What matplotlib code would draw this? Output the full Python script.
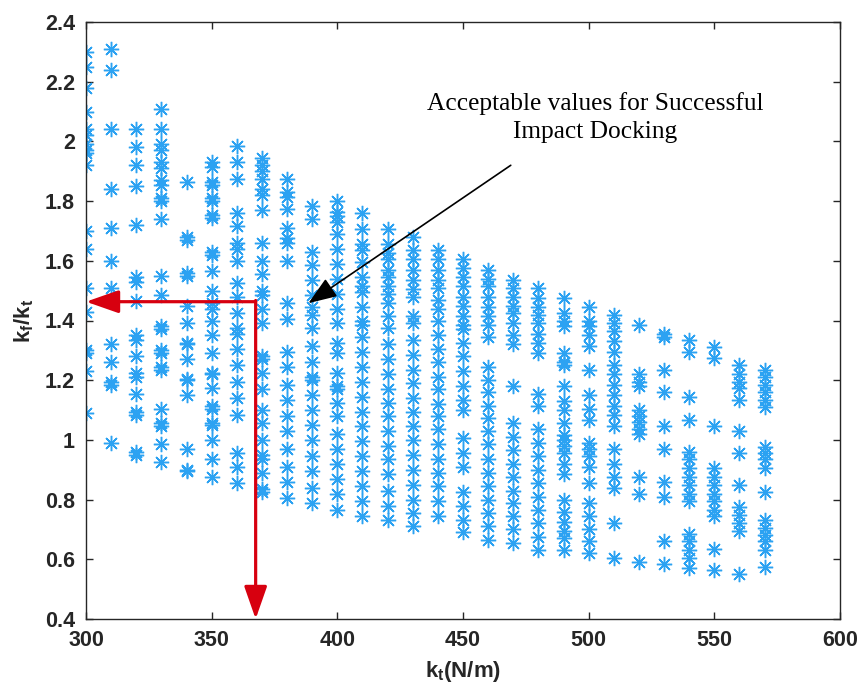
import matplotlib
matplotlib.use("Agg")
import matplotlib.pyplot as plt

plt.rcParams['font.family'] = ['Liberation Sans', 'DejaVu Sans']
plt.rcParams['mathtext.fontset'] = 'custom'
plt.rcParams['mathtext.rm'] = 'Liberation Sans'
plt.rcParams['mathtext.it'] = 'Liberation Sans:italic'
plt.rcParams['mathtext.bf'] = 'Liberation Sans:bold'

# ---- data: k_t columns and the k_f/k_t values found in each ----
kt_values = [300, 310, 320, 330, 340, 350, 360, 370, 380, 390, 400, 410, 420, 430,
             440, 450, 460, 470, 480, 490, 500, 510, 520, 530, 540, 550, 560, 570]

r300 = [2.30, 2.25, 2.18, 2.10, 2.04, 2.02, 1.99, 1.97, 1.96, 1.92, 1.70, 1.64, 1.51, 1.43, 1.30, 1.29, 1.23, 1.09]
r310 = [2.31, 2.24, 2.04, 1.84, 1.71, 1.60, 1.51, 1.32, 1.26, 1.195, 1.185, 0.99]
r320 = [2.04, 1.98, 1.92, 1.85, 1.72, 1.545, 1.53, 1.465, 1.35, 1.335, 1.28, 1.225, 1.21, 1.155, 1.095, 1.085, 0.96, 0.95]
r330 = [2.11, 2.04, 1.99, 1.97, 1.93, 1.91, 1.87, 1.855, 1.81, 1.80, 1.74, 1.55, 1.485, 1.38, 1.37, 1.30, 1.29,
        1.245, 1.235, 1.105, 1.055, 1.045, 0.985, 0.925]
r340 = [1.865, 1.68, 1.67, 1.56, 1.55, 1.45, 1.39, 1.325, 1.32, 1.27, 1.205, 1.20, 1.15, 0.97, 0.90, 0.895]
r350 = [1.93, 1.915, 1.865, 1.855, 1.81, 1.80, 1.755, 1.745, 1.63, 1.62, 1.565, 1.50, 1.46, 1.44, 1.40, 1.35,
        1.29, 1.225, 1.22, 1.175, 1.115, 1.105, 1.055, 1.05, 1.0, 0.935, 0.875]
r360 = [1.985, 1.93, 1.875, 1.76, 1.715, 1.66, 1.64, 1.60, 1.525, 1.48, 1.425, 1.375, 1.355, 1.305, 1.25,
        1.195, 1.14, 1.085, 0.955, 0.91, 0.855]
r370 = [1.945, 1.92, 1.90, 1.875, 1.84, 1.82, 1.77, 1.66, 1.60, 1.555, 1.50, 1.485, 1.44, 1.39, 1.28, 1.27,
        1.225, 1.17, 1.10, 1.055, 1.0, 0.95, 0.935, 0.89, 0.835, 0.825]
r380 = [1.875, 1.83, 1.815, 1.775, 1.71, 1.675, 1.66, 1.60, 1.46, 1.405, 1.295, 1.245, 1.185, 1.135, 1.08,
        1.03, 0.97, 0.91, 0.86, 0.805]
r390 = [1.785, 1.74, 1.63, 1.585, 1.535, 1.485, 1.445, 1.42, 1.375, 1.315, 1.26, 1.21, 1.20, 1.15, 1.10, 1.05,
        1.0, 0.945, 0.895, 0.84, 0.79]
r400 = [1.80, 1.765, 1.75, 1.73, 1.69, 1.64, 1.59, 1.54, 1.49, 1.44, 1.39, 1.325, 1.29, 1.225, 1.18, 1.17,
        1.125, 1.08, 1.02, 0.97, 0.92, 0.87, 0.82, 0.765]
r410 = [1.76, 1.705, 1.655, 1.635, 1.595, 1.545, 1.515, 1.495, 1.445, 1.40, 1.385, 1.345, 1.295, 1.245, 1.195,
        1.145, 1.095, 1.045, 0.995, 0.945, 0.895, 0.845, 0.795, 0.745]
r420 = [1.705, 1.655, 1.625, 1.605, 1.57, 1.545, 1.515, 1.49, 1.46, 1.415, 1.375, 1.32, 1.27, 1.22, 1.17,
        1.125, 1.08, 1.03, 0.98, 0.935, 0.885, 0.83, 0.78, 0.73]
r430 = [1.68, 1.635, 1.605, 1.57, 1.535, 1.505, 1.48, 1.415, 1.39, 1.335, 1.285, 1.235, 1.19, 1.14, 1.095,
        1.045, 1.0, 0.95, 0.90, 0.85, 0.80, 0.755, 0.71]
r440 = [1.635, 1.605, 1.57, 1.535, 1.51, 1.47, 1.44, 1.40, 1.35, 1.305, 1.26, 1.21, 1.17, 1.12, 1.08, 1.035,
        0.985, 0.935, 0.89, 0.845, 0.795, 0.745]
r450 = [1.605, 1.575, 1.545, 1.515, 1.48, 1.45, 1.415, 1.385, 1.37, 1.325, 1.28, 1.23, 1.18, 1.135, 1.10,
        1.005, 0.955, 0.91, 0.825, 0.78, 0.73, 0.69]
r460 = [1.57, 1.54, 1.515, 1.48, 1.445, 1.415, 1.385, 1.345, 1.245, 1.20, 1.16, 1.115, 1.075, 1.03, 0.985,
        0.935, 0.89, 0.845, 0.80, 0.755, 0.71, 0.665]
r470 = [1.535, 1.51, 1.48, 1.45, 1.425, 1.39, 1.35, 1.32, 1.18, 1.055, 1.01, 0.965, 0.92, 0.875, 0.83, 0.79,
        0.745, 0.70, 0.655]
r480 = [1.51, 1.475, 1.445, 1.42, 1.39, 1.355, 1.325, 1.29, 1.155, 1.115, 1.035, 0.99, 0.945, 0.90, 0.855,
        0.81, 0.765, 0.72, 0.675, 0.63]
r490 = [1.475, 1.425, 1.40, 1.38, 1.29, 1.26, 1.25, 1.18, 1.13, 1.10, 1.055, 1.015, 1.0, 0.98, 0.955, 0.92,
        0.885, 0.80, 0.76, 0.725, 0.695, 0.67, 0.63]
r500 = [1.445, 1.40, 1.38, 1.35, 1.315, 1.235, 1.15, 1.105, 1.065, 0.99, 0.97, 0.945, 0.91, 0.855, 0.79,
        0.745, 0.70, 0.66, 0.62]
r510 = [1.42, 1.39, 1.365, 1.33, 1.295, 1.25, 1.22, 1.185, 1.15, 1.115, 1.085, 1.045, 0.97, 0.92, 0.875,
        0.84, 0.72, 0.605]
r520 = [1.385, 1.22, 1.195, 1.18, 1.10, 1.08, 1.06, 1.035, 1.02, 0.875, 0.82, 0.59]
r530 = [1.355, 1.345, 1.235, 1.16, 1.045, 0.97, 0.86, 0.81, 0.66, 0.585]
r540 = [1.335, 1.295, 1.145, 1.065, 0.96, 0.935, 0.905, 0.875, 0.85, 0.82, 0.795, 0.685, 0.66, 0.63, 0.605, 0.57]
r550 = [1.31, 1.275, 1.045, 0.905, 0.875, 0.85, 0.82, 0.795, 0.765, 0.745, 0.635, 0.565]
r560 = [1.25, 1.22, 1.195, 1.175, 1.135, 1.03, 0.955, 0.85, 0.775, 0.75, 0.72, 0.695, 0.55]
r570 = [1.235, 1.21, 1.185, 1.16, 1.135, 1.11, 0.975, 0.955, 0.935, 0.905, 0.825, 0.73, 0.705, 0.68, 0.66,
        0.63, 0.575]

ratio_columns = [r300, r310, r320, r330, r340, r350, r360, r370, r380, r390, r400, r410, r420, r430,
                 r440, r450, r460, r470, r480, r490, r500, r510, r520, r530, r540, r550, r560, r570]

x_ticks = [300, 350, 400, 450, 500, 550, 600]
y_ticks = [0.4, 0.6, 0.8, 1.0, 1.2, 1.4, 1.6, 1.8, 2.0, 2.2, 2.4]
y_tick_labels = ['0.4', '0.6', '0.8', '1', '1.2', '1.4', '1.6', '1.8', '2', '2.2', '2.4']

chosen_kt = 367.5
chosen_ratio = 1.463
annot_text = "Acceptable values for Successful\nImpact Docking"
annot_text_pos = (502.5, 2.08)
annot_arrow_start = (469, 1.92)
annot_arrow_tip = (388.5, 1.458)

# ---- figure ----
fig = plt.figure(figsize=(8.61, 6.90), dpi=100)
ax = fig.add_axes([86 / 861, 1 - 619 / 690, (840 - 86) / 861, (619 - 22) / 690])

xs, ys = [], []
for kt, col in zip(kt_values, ratio_columns):
    xs.extend([kt] * len(col))
    ys.extend(col)

ax.plot(xs, ys, linestyle='none', marker=(8, 2, 0), markersize=11,
        markeredgewidth=1.05, color='#2CA2F2')

ax.set_xlim(300, 600)
ax.set_ylim(0.4, 2.4)
ax.set_xticks(x_ticks)
ax.set_yticks(y_ticks)
ax.set_yticklabels(y_tick_labels)

axis_color = '#262626'
for sp in ax.spines.values():
    sp.set_color(axis_color)
    sp.set_linewidth(1.0)
ax.tick_params(direction='in', length=5, width=1.0, colors=axis_color,
               top=True, right=True, labelsize=15.5)
ax.tick_params(axis='y', pad=8)
ax.tick_params(axis='x', pad=8)
for lab in ax.get_xticklabels() + ax.get_yticklabels():
    lab.set_fontweight('bold')

ax.set_xlabel(r'$\mathbf{k_t(N/m)}$', fontsize=16, color=axis_color, labelpad=6)
ax.set_ylabel(r'$\mathbf{k_f/k_t}$', fontsize=16, color=axis_color, labelpad=6)

# red arrows
red = '#D7000F'
ax.annotate('', xy=(300, chosen_ratio), xytext=(chosen_kt, chosen_ratio),
            arrowprops=dict(arrowstyle='-|>,head_length=1.0,head_width=0.35', color=red,
                            lw=2.3, mutation_scale=20, shrinkA=0, shrinkB=0),
            annotation_clip=False)
ax.annotate('', xy=(chosen_kt, 0.4), xytext=(chosen_kt, chosen_ratio + 0.004),
            arrowprops=dict(arrowstyle='-|>,head_length=1.0,head_width=0.35', color=red,
                            lw=2.3, mutation_scale=20, shrinkA=0, shrinkB=0),
            annotation_clip=False)

# annotation
ax.text(annot_text_pos[0], annot_text_pos[1], annot_text, ha='center', va='center',
        fontsize=18.3, family=['Liberation Serif', 'DejaVu Serif'], linespacing=1.3, color='black')
ax.annotate('', xy=annot_arrow_tip, xytext=annot_arrow_start,
            arrowprops=dict(arrowstyle='-|>,head_length=0.8,head_width=0.3', color='black',
                            lw=1.2, mutation_scale=22, shrinkA=0, shrinkB=0))

fig.savefig('out.png', dpi=100)
